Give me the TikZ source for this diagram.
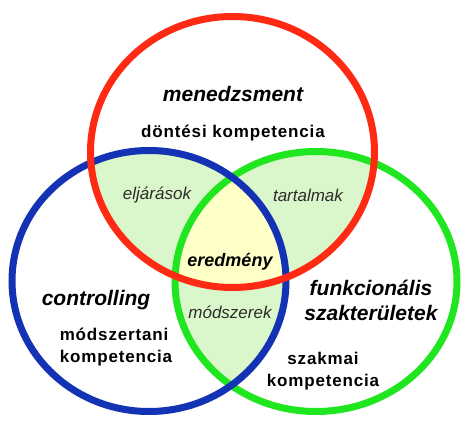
\documentclass[tikz,border=0pt]{standalone}
\usepackage{fontspec}
\setmainfont{Liberation Sans}
\newfontfamily\spaced[LetterSpace=5]{Liberation Sans}
\usetikzlibrary{positioning}

\definecolor{ringred}{HTML}{FF2A14}
\definecolor{ringblue}{HTML}{1432B4}
\definecolor{ringgreen}{HTML}{20E620}
\definecolor{pale}{HTML}{DAF7CB}
\definecolor{core}{HTML}{FFFFC8}
\definecolor{labelgray}{HTML}{2B2B2B}

\newcommand\redring{(232.5,152) ellipse [x radius=142pt, y radius=135.5pt]}
\newcommand\bluering{(149,281) ellipse [x radius=137pt, y radius=130.5pt]}
\newcommand\greenring{(316,281.5) ellipse [x radius=141pt, y radius=130pt]}

\begin{document}
\begin{tikzpicture}[x=1pt,y=-1pt,on grid,
    ring/.style={line width=7pt},
    title/.style={font=\fontsize{21}{25}\selectfont\bfseries\itshape,align=center},
    skill/.style={font=\spaced\fontsize{17}{22.5}\selectfont\bfseries},
    overlap/.style={font=\fontsize{17}{20}\selectfont\itshape,text=labelgray}]
      \useasboundingbox[fill=white] (0,0) rectangle (472,431);

      % pairwise overlaps
      \begin{scope}
        \clip \redring;
        \fill[pale] \bluering;
        \fill[pale] \greenring;
      \end{scope}
      \begin{scope}
        \clip \bluering;
        \fill[pale] \greenring;
      \end{scope}
      % all three
      \begin{scope}
        \clip \redring;
        \clip \bluering;
        \fill[core] \greenring;
      \end{scope}

      \draw[ring,ringgreen] \greenring;
      \draw[ring,ringblue] \bluering;
      \draw[ring,ringred] \redring;

      \node[title] (mgmt) at (233,94) {menedzsment};
      \node[skill] (decision) [below=39pt of mgmt] {döntési kompetencia};

      \node[overlap] (procedures) at (157,195) {eljárások};
      \node[overlap] (contents) at (308,195) {tartalmak};
      \node[title,font=\fontsize{18}{22}\selectfont\bfseries\itshape] (result) at (230,262) {eredmény};
      \node[overlap] (methods) at (230,312) {módszerek};

      \node[title] (ctrl) at (96,300) {controlling};
      \node[skill,align=left] (methskill) at (116,347) {módszertani\\kompetencia};

      \node[title] (func) at (371,300) {funkcionális\\szakterületek};
      \node[skill,align=center] (proskill) at (323,371) {szakmai\\kompetencia};
    \end{tikzpicture}
\end{document}
